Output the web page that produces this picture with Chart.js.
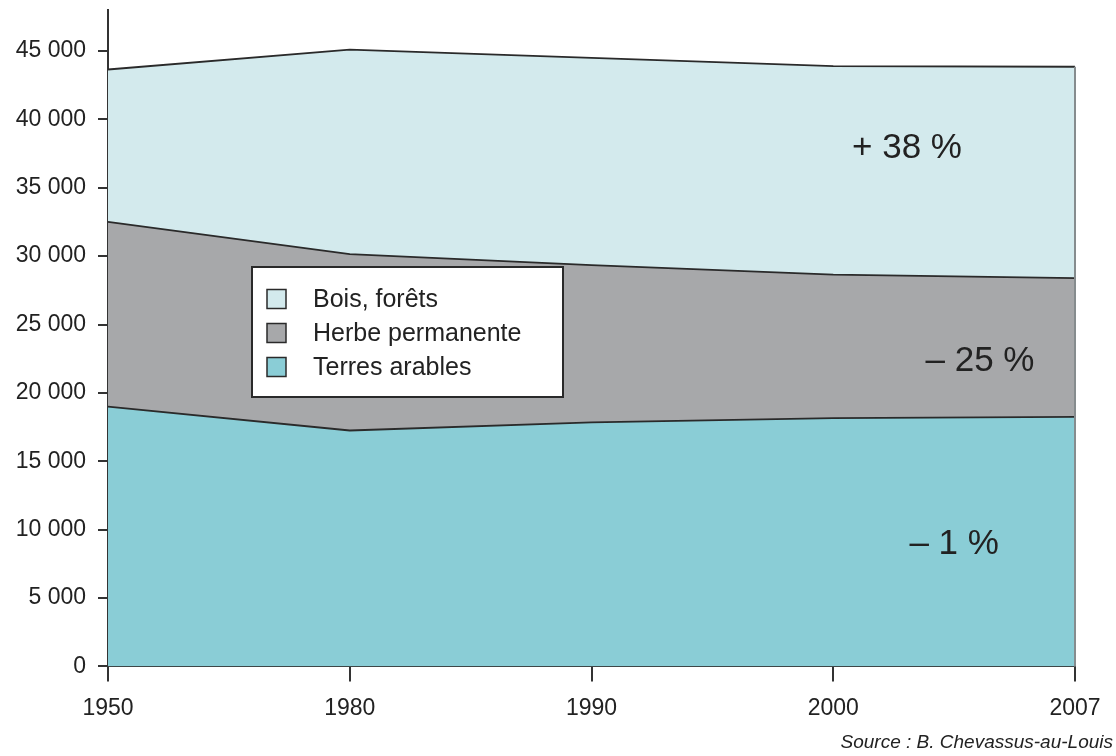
<!DOCTYPE html>
<html lang="fr">
<head>
<meta charset="utf-8">
<title>Surfaces agricoles et forestières</title>
<script src="https://cdn.jsdelivr.net/npm/chart.js@4.4.1/dist/chart.umd.min.js"></script>
<style>
  html, body { margin: 0; padding: 0; background: #fff; }
  #wrap { width: 1116px; height: 756px; }
</style>
</head>
<body>
<div id="wrap"><canvas id="landChart" width="1116" height="756"></canvas></div>
<script>
// years on the x axis (equally spaced, as in the original figure)
var years = ["1950", "1980", "1990", "2000", "2007"];

// surfaces, stacked from the bottom up
var arable = [19000, 17250, 17850, 18150, 18250];
var grassland = [13500, 12900, 11500, 10500, 10150];
var forest = [11150, 14950, 15150, 15250, 15450];

var seriesNames = ["Terres arables", "Herbe permanente", "Bois, forêts"];
var seriesColors = ["#8acdd6", "#a7a8aa", "#d3eaed"];

// change over the period, one per series (same order as above)
var changeLabels = ["– 1 %", "– 25 %", "+ 38 %"];

// y ticks (the axis itself runs a little above the last one)
var yTicks = [0, 5000, 10000, 15000, 20000, 25000, 30000, 35000, 40000, 45000];
var yTop = 48000;
var sourceText = "Source : B. Chevassus-au-Louis";

var fam = "'Liberation Sans', Arial, Helvetica, sans-serif";
Chart.defaults.font.family = fam;
Chart.defaults.color = "#222";

// format 45000 -> "45 000"
function spaced(v) {
    return String(v).replace(/\B(?=(\d{3})+(?!\d))/g, " ");
}

// legend box, change labels, right edge and source line
var extras = {
    id: "extras",
    afterDatasetsDraw: function (chart, args, opts) {
        var ctx = chart.ctx;
        var area = chart.chartArea;
        var xs = chart.scales.x;
        var ys = chart.scales.y;
        ctx.save();

        // right edge of the stack
        var topPts = chart.getDatasetMeta(chart.data.datasets.length - 1).data;
        var last = topPts[topPts.length - 1];
        ctx.strokeStyle = "#868c8e";
        ctx.lineWidth = 2;
        ctx.beginPath();
        ctx.moveTo(last.x, last.y);
        ctx.lineTo(last.x, ys.getPixelForValue(0));
        ctx.stroke();

        // percentage labels
        ctx.font = "35px " + fam;
        ctx.fillStyle = "#222";
        ctx.textAlign = "center";
        ctx.textBaseline = "middle";
        opts.notes.forEach(function (n, i) {
            ctx.fillText(changeLabels[i], xs.getPixelForValue(n.x), ys.getPixelForValue(n.y));
        });

        // legend (top series first)
        var lg = opts.legend;
        var lx = area.left + lg.left, ly = area.top + lg.top;
        ctx.fillStyle = "#fff";
        ctx.fillRect(lx, ly, lg.width, lg.height);
        ctx.strokeStyle = "#2a2a2a";
        ctx.lineWidth = 2;
        ctx.strokeRect(lx, ly, lg.width, lg.height);
        ctx.font = "25px " + fam;
        ctx.textAlign = "left";
        for (var i = 0; i < seriesNames.length; i++) {
            var k = seriesNames.length - 1 - i;
            var cy = ly + lg.firstRow + i * lg.rowGap;
            ctx.fillStyle = seriesColors[k];
            ctx.fillRect(lx + lg.boxLeft, cy - lg.box / 2, lg.box, lg.box);
            ctx.lineWidth = 1.5;
            ctx.strokeStyle = "#2a2a2a";
            ctx.strokeRect(lx + lg.boxLeft, cy - lg.box / 2, lg.box, lg.box);
            ctx.fillStyle = "#222";
            ctx.fillText(seriesNames[k], lx + lg.textLeft, cy + 1);
        }

        // source
        ctx.font = "italic 19px " + fam;
        ctx.textAlign = "right";
        ctx.fillStyle = "#222";
        ctx.fillText(sourceText, chart.width - 3, chart.height - 13);
        ctx.restore();
    }
};

var seriesData = [arable, grassland, forest];
var datasets = seriesData.map(function (vals, i) {
    return {
        label: seriesNames[i],
        data: vals,
        backgroundColor: seriesColors[i],
        borderColor: "#2a2a2a",
        borderWidth: 1.8,
        pointRadius: 0,
        tension: 0,
        fill: i === 0 ? "origin" : "-1"
    };
});

new Chart(document.getElementById("landChart"), {
    type: "line",
    data: { labels: years, datasets: datasets },
    plugins: [extras],
    options: {
        responsive: false,
        animation: false,
        events: [],
        layout: { padding: { left: 0, right: 41, top: 10, bottom: 21 } },
        plugins: {
            legend: { display: false },
            tooltip: { enabled: false },
            extras: {
                notes: [
                    { x: 3.5, y: 8900 },
                    { x: 3.607, y: 22300 },
                    { x: 3.305, y: 37900 }
                ],
                legend: {
                    left: 144, top: 257, width: 311, height: 130,
                    firstRow: 32, rowGap: 34, box: 19, boxLeft: 15, textLeft: 61
                }
            }
        },
        scales: {
            x: {
                offset: false,
                grid: { drawOnChartArea: false, drawTicks: true, tickLength: 15, color: "#333", lineWidth: 2 },
                border: { display: true, color: "#333", width: 2 },
                ticks: { font: { size: 23 }, padding: 13, maxRotation: 0, color: "#222" }
            },
            y: {
                stacked: true,
                min: 0,
                max: yTop,
                afterFit: function (scale) {
                    scale.width = 108;
                    scale.paddingTop = 0;
                    scale.paddingBottom = 0;
                },
                afterBuildTicks: function (scale) {
                    scale.ticks = yTicks.map(function (v) { return { value: v }; });
                },
                grid: { drawOnChartArea: false, drawTicks: true, tickLength: 10, color: "#333", lineWidth: 2 },
                border: { display: true, color: "#333", width: 2 },
                ticks: {
                    autoSkip: false,
                    font: { size: 23 },
                    padding: 12,
                    color: "#222",
                    callback: function (v) { return spaced(v); }
                }
            }
        }
    }
});
</script>
</body>
</html>
